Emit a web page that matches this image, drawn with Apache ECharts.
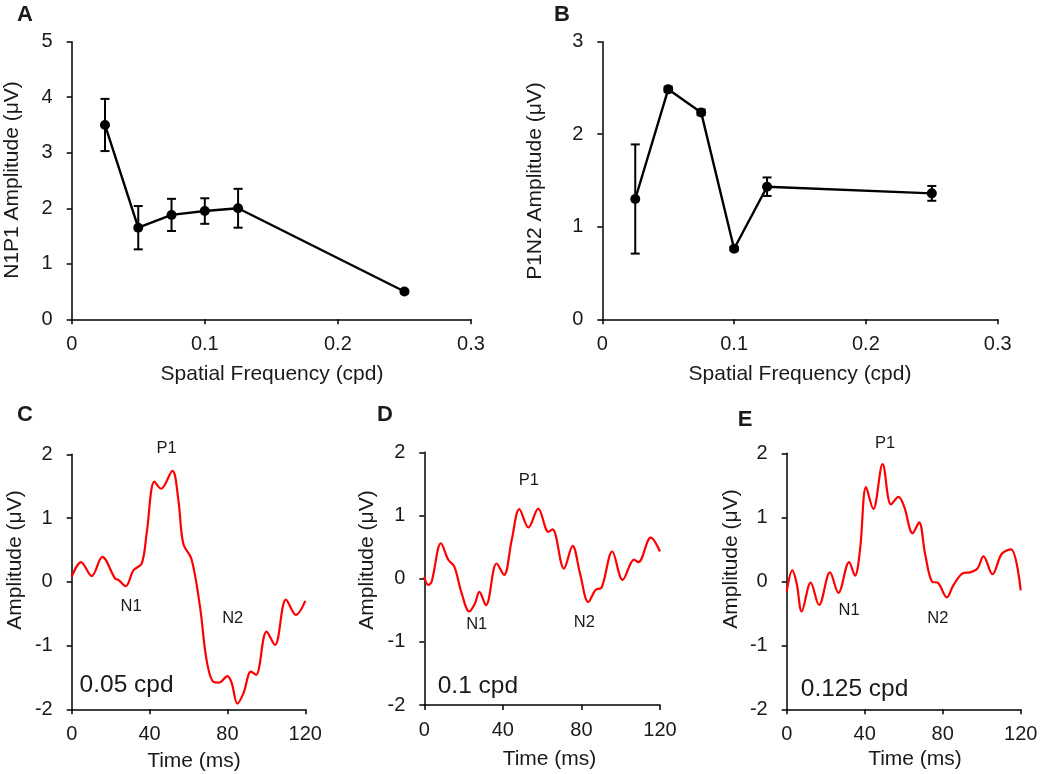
<!DOCTYPE html>
<html>
<head>
<meta charset="utf-8">
<script src="https://cdn.jsdelivr.net/npm/echarts@6/dist/echarts.min.js"></script>
<style>
html,body{margin:0;padding:0;background:#fff;}
#chart{width:1050px;height:774px;}
</style>
</head>
<body>
<div id="chart"></div>
<script>
// ---------- Data ----------
var freq = [0.025, 0.05, 0.075, 0.1, 0.125, 0.25];
var n1p1Amp = [3.5, 1.65, 1.88, 1.95, 2.0, 0.5];
var n1p1Err = [0.47, 0.39, 0.29, 0.23, 0.35, 0.03];
var p1n2Amp = [1.3, 2.485, 2.236, 0.763, 1.433, 1.361];
var p1n2Err = [0.59, 0.03, 0.03, 0.02, 0.1, 0.08];

var timeC = [0, 4.8, 10.3, 15.7, 22.3, 24, 27.7, 31.7, 36, 38.5, 42.5, 45.9, 51.7, 54.8, 57.3, 61.6, 65.9, 69.3, 72.8, 75.7, 80, 82.2, 85.1, 88.2, 92.1, 94.7, 100.1, 104.4, 110.1, 115.2, 120];
var ampC  = [0.08, 0.31, 0.09, 0.39, 0.05, 0.03, -0.07, 0.18, 0.29, 0.76, 1.57, 1.46, 1.74, 1.28, 0.6, 0.35, -0.39, -1.23, -1.57, -1.58, -1.48, -1.59, -1.91, -1.75, -1.41, -1.46, -0.78, -0.99, -0.28, -0.52, -0.30];

var timeD = [0, 2, 3.7, 8.5, 12.2, 15.3, 19, 22.9, 25.8, 28, 31.4, 36.8, 40.6, 44.5, 48.4, 53, 58, 63.2, 65.3, 71.1, 75.5, 79.3, 83.5, 87.2, 90.3, 95.7, 101, 106.8, 109, 115.3, 120];
var ampD  = [0.03, -0.10, -0.05, 0.56, 0.30, 0.19, -0.23, -0.52, -0.39, -0.21, -0.42, 0.24, 0.06, 0.61, 1.10, 0.81, 1.11, 0.74, 0.78, 0.16, 0.52, 0.08, -0.37, -0.18, -0.14, 0.43, -0.02, 0.30, 0.26, 0.65, 0.43];

var timeE = [0, 2.9, 5.1, 7.7, 12.3, 16.6, 22.2, 26.5, 32, 35, 37.6, 40.7, 44.4, 49.2, 53.5, 57.3, 60.2, 64.6, 67.9, 70.9, 74.7, 77.3, 82.1, 85.5, 90.6, 94, 97.8, 100.9, 105.5, 110.3, 115, 120];
var ampE  = [-0.16, 0.17, -0.03, -0.47, -0.02, -0.37, 0.14, -0.18, 0.30, 0.09, 0.49, 1.47, 1.13, 1.83, 1.20, 1.32, 1.17, 0.75, 0.92, 0.44, -0.01, -0.02, -0.25, -0.06, 0.13, 0.14, 0.20, 0.39, 0.11, 0.43, 0.5, -0.14];

// Peak labels [text, time, amplitude]
var labelsC = [["P1", 48.8, 2.09], ["N1", 30.5, -0.39], ["N2", 82.7, -0.57]];
var labelsD = [["P1", 53.2, 1.55], ["N1", 26.7, -0.72], ["N2", 81.5, -0.70]];
var labelsE = [["P1", 50.4, 2.16], ["N1", 32, -0.45], ["N2", 77.5, -0.58]];
var condC = ["0.05 cpd", 28.2, -1.62];
var condD = ["0.1 cpd", 27.3, -1.71];
var condE = ["0.125 cpd", 34.8, -1.69];

var freqTicks = [0, 0.1, 0.2, 0.3];
var panelLetters = ["A", "B", "C", "D", "E"];

// ---------- Helpers ----------
var FONT = 'Liberation Sans, Arial, sans-serif';
var TXT = '#1a1a1a';

function pairs(xs, ys){ return xs.map(function(x,i){ return [x, ys[i]]; }); }

function valueAxis(idx, min, max, interval, fmt, isX){
  return {
    type: 'value', gridIndex: idx, min: min, max: max, interval: interval,
    axisLine: {show: true, onZero: false, lineStyle: {color: '#000', width: 1.5}},
    axisTick: {show: true, length: 5, lineStyle: {color: '#000', width: 1.5}},
    splitLine: {show: false},
    axisLabel: {color: TXT, fontSize: 20, fontFamily: FONT, margin: isX ? 15 : 19, formatter: fmt}
  };
}
var fmtFreq = function(v){ return String(+v.toFixed(1)); };
var fmtInt = function(v){ return String(Math.round(v)); };

function errSeries(idx, xs, ys, es){
  return {
    type: 'custom', xAxisIndex: idx, yAxisIndex: idx, z: 3,
    data: xs.map(function(x,i){ return [x, ys[i] - es[i], ys[i] + es[i]]; }),
    renderItem: function(params, api){
      var lo = api.coord([api.value(0), api.value(1)]);
      var hi = api.coord([api.value(0), api.value(2)]);
      var hw = 4.5;
      var st = {stroke: '#000', lineWidth: 2};
      return {type: 'group', children: [
        {type: 'line', shape: {x1: lo[0], y1: lo[1], x2: hi[0], y2: hi[1]}, style: st},
        {type: 'line', shape: {x1: lo[0]-hw, y1: lo[1], x2: lo[0]+hw, y2: lo[1]}, style: st},
        {type: 'line', shape: {x1: hi[0]-hw, y1: hi[1], x2: hi[0]+hw, y2: hi[1]}, style: st}
      ]};
    }
  };
}

function lineSeries(idx, xs, ys){
  return {
    type: 'line', xAxisIndex: idx, yAxisIndex: idx, z: 4,
    data: pairs(xs, ys), symbol: 'circle', symbolSize: 10,
    itemStyle: {color: '#000'}, lineStyle: {color: '#000', width: 2.4}
  };
}

function waveSeries(idx, xs, ys){
  return {
    type: 'line', xAxisIndex: idx, yAxisIndex: idx, z: 4,
    data: pairs(xs, ys), showSymbol: false, smooth: 0.35,
    lineStyle: {color: '#ff0000', width: 2.2}
  };
}

function text(x, y, s, size, weight, rot){
  return {type: 'text', x: x, y: y, rotation: rot || 0,
    style: {text: s, fill: TXT, font: (weight || 'normal') + ' ' + size + 'px ' + FONT,
      textAlign: 'center', textVerticalAlign: 'middle'}};
}

var grids = [
  {left: 71.7, top: 41.7, width: 399.3, height: 277.6},
  {left: 602.3, top: 41.7, width: 395.4, height: 277.6},
  {left: 71.7, top: 454.3, width: 233.6, height: 255},
  {left: 424.3, top: 452.3, width: 235.7, height: 252.7},
  {left: 786.7, top: 453.3, width: 234, height: 256}
];

var staticGraphics = [
  text(25, 15, panelLetters[0], 22, 'bold'),
  text(562, 15, panelLetters[1], 22, 'bold'),
  text(25, 415, panelLetters[2], 22, 'bold'),
  text(385, 415, panelLetters[3], 22, 'bold'),
  text(745, 420, panelLetters[4], 22, 'bold'),
  text(12, 180, 'N1P1 Amplitude (μV)', 21, 'normal', Math.PI/2),
  text(535, 181, 'P1N2 Amplitude (μV)', 21, 'normal', Math.PI/2),
  text(15.5, 560, 'Amplitude (μV)', 21, 'normal', Math.PI/2),
  text(367.5, 560, 'Amplitude (μV)', 21, 'normal', Math.PI/2),
  text(731.7, 559, 'Amplitude (μV)', 21, 'normal', Math.PI/2),
  text(272, 374, 'Spatial Frequency (cpd)', 21),
  text(800, 374, 'Spatial Frequency (cpd)', 21),
  text(194, 761, 'Time (ms)', 21),
  text(549.5, 759, 'Time (ms)', 21),
  text(915, 759, 'Time (ms)', 21)
];

var option = {
  animation: false,
  backgroundColor: '#fff',
  grid: grids,
  xAxis: [
    valueAxis(0, freqTicks[0], freqTicks[3], 0.1, fmtFreq, true),
    valueAxis(1, freqTicks[0], freqTicks[3], 0.1, fmtFreq, true),
    valueAxis(2, 0, 120, 40, fmtInt, true),
    valueAxis(3, 0, 120, 40, fmtInt, true),
    valueAxis(4, 0, 120, 40, fmtInt, true)
  ],
  yAxis: [
    valueAxis(0, 0, 5, 1, fmtInt),
    valueAxis(1, 0, 3, 1, fmtInt),
    valueAxis(2, -2, 2, 1, fmtInt),
    valueAxis(3, -2, 2, 1, fmtInt),
    valueAxis(4, -2, 2, 1, fmtInt)
  ],
  series: [
    errSeries(0, freq, n1p1Amp, n1p1Err),
    lineSeries(0, freq, n1p1Amp),
    errSeries(1, freq, p1n2Amp, p1n2Err),
    lineSeries(1, freq, p1n2Amp),
    waveSeries(2, timeC, ampC),
    waveSeries(3, timeD, ampD),
    waveSeries(4, timeE, ampE)
  ],
  graphic: staticGraphics
};

var chart = echarts.init(document.getElementById('chart'), null, {renderer: 'canvas'});
chart.setOption(option);

// Annotations placed in data coordinates via the axes' own scales
var annots = [];
[[2, labelsC, condC], [3, labelsD, condD], [4, labelsE, condE]].forEach(function(p){
  p[1].forEach(function(l){
    var px = chart.convertToPixel({gridIndex: p[0]}, [l[1], l[2]]);
    annots.push(text(px[0], px[1], l[0], 16.5));
  });
  var cp = chart.convertToPixel({gridIndex: p[0]}, [p[2][1], p[2][2]]);
  annots.push(text(cp[0], cp[1], p[2][0], 24.5));
});
chart.setOption({graphic: staticGraphics.concat(annots)});
</script>
</body>
</html>
